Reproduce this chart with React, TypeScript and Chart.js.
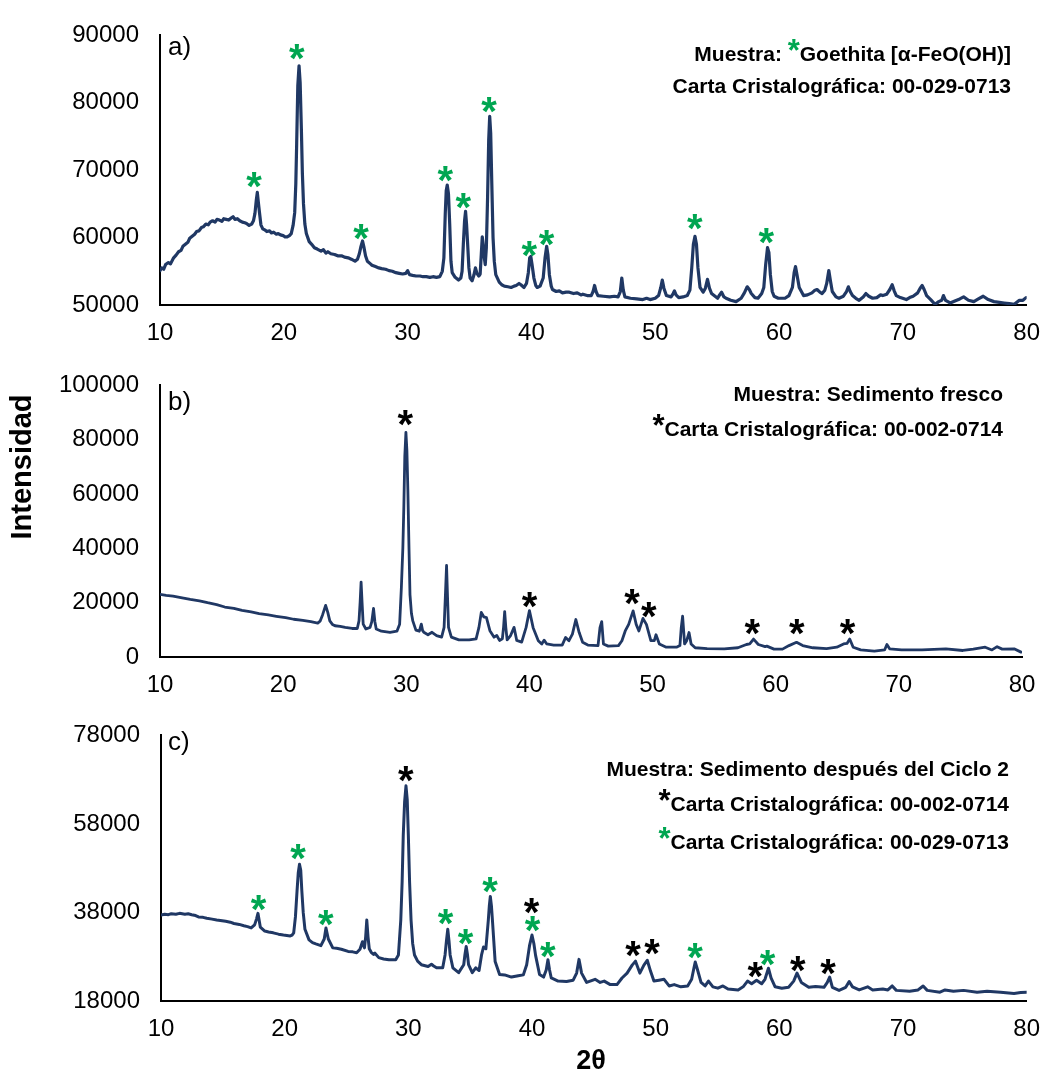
import { useEffect, useRef } from "react";
import { Chart, registerables } from "chart.js";

Chart.register(...registerables);

const FONT = "Arial, 'Liberation Sans', Helvetica, sans-serif";
const NAVY = "#203864";
const GREEN = "#00A651";
const BLACK = "#000000";

// ---- axes ----
const xTicks = [10, 20, 30, 40, 50, 60, 70, 80];
const yTicksA = [50000, 60000, 70000, 80000, 90000];
const yTicksB = [0, 20000, 40000, 60000, 80000, 100000];
const yTicksC = [18000, 38000, 58000, 78000];

// ---- a) Goethita ----
const thetaA = [
  10.0, 10.14, 10.3, 10.45, 10.68, 10.85, 11.1, 11.3, 11.5, 11.7, 11.85, 12.05, 12.25, 12.4, 12.6, 12.8,
  12.95, 13.15, 13.35, 13.5, 13.7, 13.9, 14.05, 14.25, 14.45, 14.6, 14.8, 15.0, 15.15, 15.35, 15.55, 15.75,
  15.9, 16.05, 16.25, 16.44, 16.65, 16.85, 16.99, 17.2, 17.4, 17.55, 17.67, 17.78, 17.86, 17.94, 18.03, 18.15,
  18.3, 18.5, 18.63, 18.85, 19.0, 19.18, 19.4, 19.55, 19.73, 19.95, 20.1, 20.27, 20.45, 20.6, 20.75, 20.88,
  20.97, 21.04, 21.13, 21.23, 21.32, 21.42, 21.5, 21.59, 21.7, 21.82, 22.05, 22.25, 22.47, 22.7, 23.01, 23.2,
  23.4, 23.56, 23.8, 24.1, 24.35, 24.66, 24.9, 25.2, 25.45, 25.75, 25.95, 26.1, 26.22, 26.36, 26.48, 26.6,
  26.75, 27.0, 27.12, 27.4, 27.67, 27.9, 28.22, 28.5, 28.77, 29.05, 29.32, 29.6, 29.85, 30.0, 30.15, 30.4,
  30.68, 31.0, 31.25, 31.51, 31.8, 32.05, 32.33, 32.6, 32.8, 32.93, 33.04, 33.12, 33.2, 33.3, 33.4, 33.5,
  33.6, 33.84, 34.11, 34.3, 34.4, 34.5, 34.6, 34.68, 34.76, 34.85, 34.95, 35.05, 35.21, 35.35, 35.48, 35.6,
  35.75, 35.86, 35.95, 36.03, 36.1, 36.18, 36.27, 36.36, 36.46, 36.55, 36.63, 36.71, 36.8, 36.9, 37.0, 37.12,
  37.4, 37.6, 37.81, 38.1, 38.36, 38.6, 38.77, 39.0, 39.15, 39.4, 39.6, 39.75, 39.86, 39.95, 40.05, 40.2,
  40.35, 40.47, 40.7, 40.95, 41.1, 41.23, 41.33, 41.45, 41.6, 41.7, 42.0, 42.25, 42.51, 42.8, 43.06, 43.4,
  43.7, 44.0, 44.15, 44.5, 44.83, 44.98, 45.1, 45.22, 45.37, 45.8, 46.32, 46.7, 47.0, 47.18, 47.3, 47.42,
  47.55, 48.0, 48.5, 49.0, 49.3, 49.59, 50.0, 50.27, 50.45, 50.57, 50.7, 50.9, 51.28, 51.45, 51.55, 51.68,
  51.9, 52.25, 52.59, 52.8, 52.95, 53.08, 53.21, 53.33, 53.45, 53.62, 53.87, 54.05, 54.22, 54.38, 54.55, 55.04,
  55.2, 55.36, 55.55, 55.72, 56.1, 56.53, 56.94, 57.2, 57.43, 57.6, 57.76, 58.05, 58.3, 58.6, 58.77, 58.92,
  59.07, 59.18, 59.3, 59.45, 59.6, 59.94, 60.48, 60.8, 61.08, 61.22, 61.33, 61.45, 61.63, 61.98, 62.3, 62.66,
  62.9, 63.07, 63.3, 63.48, 63.7, 63.85, 64.02, 64.15, 64.3, 64.6, 64.84, 65.2, 65.45, 65.6, 65.75, 65.93,
  66.2, 66.47, 66.8, 67.02, 67.25, 67.56, 67.9, 68.2, 68.38, 68.7, 68.95, 69.14, 69.3, 69.47, 69.8, 70.28,
  70.55, 70.83, 71.2, 71.4, 71.56, 71.72, 71.92, 72.25, 72.6, 72.9, 73.14, 73.28, 73.45, 73.82, 74.2, 74.6,
  74.91, 75.3, 75.73, 76.1, 76.49, 76.9, 77.36, 77.8, 78.18, 78.6, 79.0, 79.41, 79.7, 79.95,
];
const intensityA = [
  55100, 55500, 55300, 56000, 56300, 56100, 57000, 57400, 57900, 58100, 58700, 59000, 59300, 59900, 60200, 60500,
  60900, 61000, 61500, 61600, 62000, 61900, 62300, 62500, 62300, 62700, 62600, 62400, 62800, 62700, 62600, 62900,
  63100, 62700, 62800, 62500, 62300, 62200, 62100, 61800, 62000, 62500, 63600, 65600, 66700, 65300, 63800, 61900,
  61300, 61100, 60900, 61000, 60700, 60800, 60500, 60600, 60400, 60300, 60100, 60100, 60300, 60600, 61800, 63700,
  68000, 74000, 82500, 85500, 83000, 76000, 69500, 65000, 62000, 60600, 59400, 59000, 58500, 58300, 58000, 58200,
  57700, 57900, 57600, 57500, 57300, 57300, 57100, 57000, 56800, 56500, 56800, 57600, 58600, 59500, 58500, 57300,
  56500, 56100, 55900, 55700, 55500, 55400, 55300, 55100, 55000, 54800, 54700, 54600, 54700, 55100, 54500, 54400,
  54300, 54300, 54200, 54200, 54100, 54200, 54100, 54200, 55000, 57000, 63500, 67000, 67800, 66500, 62000, 56500,
  54800, 54100, 53700, 54000, 55000, 59000, 62500, 63900, 62000, 59000, 55500, 54000, 53600, 54400, 55500, 54700,
  54300, 54600, 57500, 60100, 59000, 57200, 56000, 58500, 66000, 74500, 78000, 75500, 68000, 60000, 56500, 54500,
  53400, 53000, 52800, 52700, 52600, 52800, 52900, 53200, 53000, 52600, 53200, 54800, 57000, 57200, 56000, 54000,
  52900, 52600, 52800, 54000, 57000, 58700, 57500, 54500, 52800, 52300, 52000, 52100, 51800, 51900, 51900, 51700,
  51800, 51500, 51600, 51400, 51400, 52000, 52900, 52000, 51400, 51300, 51200, 51300, 51200, 52000, 54000, 52200,
  51200, 51000, 50900, 50800, 51000, 50800, 51000, 51400, 52600, 53700, 52500, 51400, 51200, 51700, 52100, 51500,
  51100, 51200, 51400, 52200, 55500, 59000, 60200, 59000, 55500, 52600, 51900, 52500, 53800, 52500, 51700, 51000,
  51500, 51900, 51200, 51000, 50700, 50500, 51000, 51800, 52700, 52300, 51700, 51100, 51000, 51700, 52600, 56000,
  58500, 57800, 54500, 52000, 51300, 51000, 51000, 51400, 52600, 54800, 55700, 54500, 52600, 51400, 51500, 51800,
  52200, 52300, 51900, 51700, 52200, 53200, 55100, 53600, 52000, 51200, 51000, 51300, 52000, 52700, 52000, 51400,
  51000, 50700, 51200, 51700, 51300, 51000, 51100, 51500, 51400, 51600, 52300, 53000, 52100, 51400, 51100, 50800,
  51100, 51300, 51800, 52500, 52900, 52300, 51400, 50800, 50100, 50500, 50700, 51400, 50700, 50300, 50600, 50900,
  51200, 50700, 50500, 50900, 51300, 50800, 50500, 50400, 50300, 50200, 50100, 50700, 50700, 51100,
];
const starThetaA = [17.62, 21.07, 26.25, 33.07, 34.52, 36.6, 39.85, 41.23, 53.21, 58.98];
const starIntensityA = [68600, 87500, 60900, 69500, 65400, 79650, 58300, 60000, 62350, 60300];

// ---- b) Sedimento fresco ----
const thetaB = [
  10.0, 10.5, 11.06, 11.8, 12.46, 13.2, 13.86, 14.6, 15.26, 16.0, 16.66, 17.4, 18.05, 18.8, 19.45, 20.2,
  20.85, 21.6, 22.25, 22.81, 23.0, 23.2, 23.45, 23.62, 23.79, 24.0, 24.21, 24.63, 25.04, 25.6, 26.02, 26.16,
  26.25, 26.33, 26.41, 26.5, 26.72, 27.06, 27.2, 27.34, 27.45, 27.56, 27.98, 28.68, 29.24, 29.46, 29.6, 29.72,
  29.8, 29.88, 29.97, 30.05, 30.13, 30.22, 30.3, 30.42, 30.53, 30.78, 31.06, 31.22, 31.32, 31.42, 31.76, 32.09,
  32.46, 32.87, 33.07, 33.17, 33.27, 33.35, 33.43, 33.66, 34.27, 35.11, 35.67, 35.9, 36.09, 36.29, 36.51, 36.79,
  37.13, 37.35, 37.57, 37.8, 37.9, 37.99, 38.08, 38.19, 38.47, 38.75, 38.97, 39.37, 39.73, 40.0, 40.3, 40.72,
  41.0, 41.19, 41.41, 41.97, 42.66, 42.94, 43.21, 43.49, 43.77, 44.04, 44.32, 44.74, 45.57, 45.73, 45.87, 46.01,
  46.4, 47.23, 47.51, 47.78, 48.06, 48.42, 48.67, 48.89, 49.22, 49.5, 49.86, 50.14, 50.28, 50.55, 51.11, 51.94,
  52.22, 52.33, 52.44, 52.6, 52.77, 52.96, 53.13, 53.46, 54.43, 55.82, 56.93, 57.62, 57.89, 58.2, 58.59, 59.14,
  59.28, 59.86, 60.55, 61.08, 61.69, 62.19, 63.02, 64.13, 64.96, 65.51, 65.79, 66.01, 66.29, 66.9, 68.01, 68.84,
  69.03, 69.25, 70.22, 71.88, 73.82, 75.2, 76.04, 77.01, 77.56, 77.98, 78.39, 79.36, 79.92,
];
const intensityB = [
  23100, 22700, 22400, 21800, 21200, 20700, 20000, 19300, 18400, 17900, 17200, 16600, 16000, 15500, 15000, 14500,
  13900, 13500, 13000, 12500, 13200, 15500, 19000, 16500, 13300, 12000, 11500, 11300, 10900, 10500, 10500, 13300,
  20000, 27600, 20000, 12100, 10300, 10900, 13000, 17900, 13000, 10300, 9500, 9100, 9500, 12100, 25500, 40000,
  55000, 74000, 82700, 76000, 61000, 40000, 23000, 16000, 13300, 9900, 9500, 12100, 9800, 9100, 8200, 9100,
  7900, 7300, 10900, 22000, 33700, 22000, 10900, 7300, 6300, 6300, 6700, 10900, 16400, 14800, 14500, 9700,
  7300, 7900, 6100, 6700, 11000, 16700, 11000, 6300, 7900, 10900, 6100, 5500, 10900, 17100, 10800, 6000,
  4800, 6200, 4800, 4400, 4400, 7200, 6000, 8400, 13800, 9000, 5400, 4400, 4200, 10800, 13000, 4800,
  4000, 4200, 6000, 9600, 12000, 17000, 12000, 9600, 14200, 12000, 6000, 6000, 8200, 4800, 3600, 3600,
  4200, 10800, 15000, 4800, 6000, 9000, 4800, 3400, 3100, 3000, 3400, 4600, 4800, 6600, 4600, 3800,
  4000, 2900, 2900, 4200, 5400, 4200, 3400, 3100, 3600, 4800, 5000, 6600, 3600, 2600, 2200, 2600,
  4600, 3000, 2600, 2600, 3000, 2400, 2900, 3600, 2600, 3800, 2900, 3000, 1800,
];
const starThetaB = [29.94, 40.02, 48.34, 49.72, 58.12, 61.72, 65.85];
const starIntensityB = [87870, 21100, 22180, 17390, 11150, 11150, 11150];

// ---- c) Sedimento después del Ciclo 2 ----
const thetaC = [
  10.0, 10.3, 10.6, 10.83, 11.2, 11.5, 11.93, 12.2, 12.48, 12.8, 13.03, 13.4, 13.7, 14.13, 14.5, 14.8,
  15.23, 15.6, 15.9, 16.33, 16.7, 17.0, 17.29, 17.57, 17.72, 17.84, 17.94, 18.03, 18.39, 18.7, 19.08, 19.5,
  19.9, 20.45, 20.6, 20.73, 20.87, 21.0, 21.1, 21.2, 21.3, 21.39, 21.5, 21.64, 21.97, 22.25, 22.52, 22.93,
  23.2, 23.34, 23.53, 23.89, 24.2, 24.58, 25.13, 25.5, 25.82, 26.09, 26.29, 26.45, 26.55, 26.64, 26.74, 26.84,
  27.0, 27.19, 27.3, 27.61, 28.0, 28.43, 28.98, 29.2, 29.39, 29.5, 29.59, 29.7, 29.81, 29.91, 30.0, 30.1,
  30.22, 30.35, 30.5, 30.75, 31.05, 31.6, 31.87, 32.05, 32.28, 32.78, 32.97, 33.08, 33.19, 33.29, 33.38, 33.6,
  34.07, 34.48, 34.58, 34.68, 34.78, 34.87, 35.17, 35.45, 35.72, 35.92, 36.08, 36.27, 36.47, 36.55, 36.63, 36.72,
  36.8, 37.02, 37.38, 37.79, 38.34, 38.89, 39.3, 39.57, 39.8, 40.0, 40.15, 40.29, 40.61, 40.94, 41.15, 41.29,
  41.42, 41.56, 42.11, 42.79, 43.33, 43.61, 43.8, 44.01, 44.42, 45.1, 45.51, 45.84, 46.33, 46.87, 47.28, 47.69,
  48.1, 48.37, 48.72, 49.05, 49.32, 49.59, 49.86, 50.27, 50.68, 51.09, 51.5, 52.04, 52.59, 52.91, 53.1, 53.2,
  53.35, 53.67, 54.0, 54.27, 54.63, 55.03, 55.44, 55.85, 56.67, 57.07, 57.43, 57.76, 58.16, 58.57, 58.84, 59.12,
  59.33, 59.66, 60.2, 60.75, 61.16, 61.43, 61.78, 62.38, 62.93, 63.61, 63.88, 64.07, 64.29, 64.83, 65.37, 65.65,
  65.92, 66.46, 67.14, 67.55, 68.37, 68.78, 69.13, 69.46, 70.54, 71.22, 71.63, 71.96, 72.99, 73.4, 74.08, 74.9,
  75.99, 76.8, 77.89, 78.98, 79.52, 80.0,
];
const intensityC = [
  37400, 37600, 37500, 37700, 37600, 37800, 37600, 37700, 37500, 37300, 37000, 36900, 36700, 36500, 36300, 36200,
  36000, 35800, 35500, 35300, 35000, 34800, 34500, 35200, 36500, 37800, 36200, 34700, 33800, 33600, 33400, 33100,
  32900, 32700, 32900, 33400, 37000, 42800, 47000, 48900, 47500, 42800, 38000, 34200, 31800, 31200, 30900, 30500,
  32000, 34500, 32000, 30000, 29900, 29700, 29200, 29100, 28900, 29700, 31400, 30000, 32500, 36300, 32500, 29800,
  29000, 28500, 28800, 27800, 27500, 27300, 27300, 28400, 36300, 45000, 55500, 63000, 66600, 63500, 55500, 45000,
  36300, 31000, 28400, 27000, 26200, 25800, 26300, 25900, 25500, 25500, 28400, 31500, 34200, 31500, 28400, 25500,
  24400, 26200, 28500, 30300, 28500, 26200, 24400, 25500, 24900, 28400, 30200, 29800, 36300, 39500, 41600, 39500,
  36300, 26900, 24000, 23900, 23400, 23700, 23900, 26200, 30500, 32900, 31000, 28300, 24000, 23400, 25000, 27300,
  25000, 23200, 22500, 22400, 22700, 24300, 27400, 24300, 22200, 22900, 22200, 22500, 21700, 21700, 23200, 24300,
  26100, 27000, 24300, 26100, 27200, 24700, 22500, 22700, 22900, 21400, 21700, 21200, 21400, 22900, 25500, 26800,
  25400, 22200, 21400, 22500, 21200, 20900, 21400, 20700, 20500, 21200, 22500, 21900, 22700, 21900, 22900, 25400,
  23200, 21200, 20900, 21100, 22500, 24300, 22200, 21100, 21300, 21100, 22200, 23400, 21100, 20400, 21100, 22400,
  21200, 20500, 21200, 20500, 20700, 20500, 21400, 20400, 20200, 20500, 21400, 20400, 20000, 20500, 20200, 20400,
  20000, 20200, 20000, 19700, 19900, 20000,
];
const blackStarThetaC = [29.81, 39.99, 48.18, 49.73, 58.08, 61.51, 63.96];
const blackStarIntensityC = [69300, 39360, 29830, 30180, 25020, 26460, 25740];
const greenStarThetaC = [17.9, 21.09, 23.34, 33.03, 34.65, 36.63, 40.07, 41.29, 53.21, 59.06];
const greenStarIntensityC = [40170, 51770, 36700, 37060, 32490, 44300, 35420, 29540, 29320, 27680];

// ---- panel texts ----
const TEXT_FONT = `bold 21px ${FONT}`;
const INLINE_STAR_FONT = `bold 31px ${FONT}`;
const PEAK_STAR_SIZE = 40;

type Part = { text: string; color: string; font: string };
type TextLine = { right: number; baseline: number; parts: Part[] };
type Star = { x: number; y: number; color: string };
type Panel = {
  top: number;
  height: number;
  padTop: number;
  padRight: number;
  yAxisWidth: number;
  xAxisHeight: number;
  yTicks: number[];
  theta: number[];
  intensity: number[];
  lineWidth: number;
  letter: string;
  letterX: number;
  letterBaseline: number;
  lines: TextLine[];
  stars: Star[];
  titles?: { text: string; x: number; y: number; font: string; rotate: boolean }[];
};

const txt = (text: string): Part => ({ text, color: BLACK, font: TEXT_FONT });
const star = (color: string): Part => ({ text: "*", color, font: INLINE_STAR_FONT });

const toStars = (xs: number[], ys: number[], color: string): Star[] =>
  xs.map((x, i) => ({ x, y: ys[i], color }));

const panels: Panel[] = [
  {
    top: 0,
    height: 350,
    padTop: 30,
    padRight: 17,
    yAxisWidth: 160,
    xAxisHeight: 45,
    yTicks: yTicksA,
    theta: thetaA,
    intensity: intensityA,
    lineWidth: 3.2,
    letter: "a)",
    letterX: 168,
    letterBaseline: 55,
    lines: [
      { right: 1011, baseline: 61, parts: [txt("Muestra: "), star(GREEN), txt("Goethita [α-FeO(OH)]")] },
      { right: 1011, baseline: 93, parts: [txt("Carta Cristalográfica: 00-029-0713")] },
    ],
    stars: toStars(starThetaA, starIntensityA, GREEN),
  },
  {
    top: 350,
    height: 350,
    padTop: 31,
    padRight: 32,
    yAxisWidth: 160,
    xAxisHeight: 43,
    yTicks: yTicksB,
    theta: thetaB,
    intensity: intensityB,
    lineWidth: 2.8,
    letter: "b)",
    letterX: 168,
    letterBaseline: 60,
    lines: [
      { right: 1003, baseline: 51, parts: [txt("Muestra: Sedimento fresco")] },
      { right: 1003, baseline: 86, parts: [star(BLACK), txt("Carta Cristalográfica: 00-002-0714")] },
    ],
    stars: toStars(starThetaB, starIntensityB, BLACK),
    titles: [{ text: "Intensidad", x: 23, y: 117, font: `bold 29px ${FONT}`, rotate: true }],
  },
  {
    top: 700,
    height: 378,
    padTop: 25,
    padRight: 17,
    yAxisWidth: 161,
    xAxisHeight: 77,
    yTicks: yTicksC,
    theta: thetaC,
    intensity: intensityC,
    lineWidth: 3.0,
    letter: "c)",
    letterX: 168,
    letterBaseline: 50,
    lines: [
      { right: 1009, baseline: 76, parts: [txt("Muestra: Sedimento después del Ciclo 2")] },
      { right: 1009, baseline: 111, parts: [star(BLACK), txt("Carta Cristalográfica: 00-002-0714")] },
      { right: 1009, baseline: 149, parts: [star(GREEN), txt("Carta Cristalográfica: 00-029-0713")] },
    ],
    stars: [
      ...toStars(blackStarThetaC, blackStarIntensityC, BLACK),
      ...toStars(greenStarThetaC, greenStarIntensityC, GREEN),
    ],
    titles: [{ text: "2θ", x: 591, y: 362, font: `bold 27px ${FONT}`, rotate: false }],
  },
];

function drawPeakStar(ctx: CanvasRenderingContext2D, x: number, y: number, color: string) {
  ctx.save();
  ctx.font = `bold ${PEAK_STAR_SIZE}px ${FONT}`;
  ctx.fillStyle = color;
  ctx.textAlign = "left";
  ctx.textBaseline = "alphabetic";
  const m = ctx.measureText("*");
  const x0 = x - (m.actualBoundingBoxRight - m.actualBoundingBoxLeft) / 2;
  const y0 = y + (m.actualBoundingBoxAscent - m.actualBoundingBoxDescent) / 2;
  ctx.fillText("*", x0, y0);
  ctx.restore();
}

function overlayPlugin(p: Panel) {
  return {
    id: "panelOverlay",
    afterDraw(chart: any) {
      const ctx: CanvasRenderingContext2D = chart.ctx;
      const xs = chart.scales.x;
      const ys = chart.scales.y;
      ctx.save();
      // panel letter
      ctx.font = `26px ${FONT}`;
      ctx.fillStyle = BLACK;
      ctx.textAlign = "left";
      ctx.textBaseline = "alphabetic";
      ctx.fillText(p.letter, p.letterX, p.letterBaseline);
      // sample / card captions, right aligned
      for (const line of p.lines) {
        let x = line.right;
        for (let i = line.parts.length - 1; i >= 0; i--) {
          const part = line.parts[i];
          ctx.font = part.font;
          ctx.fillStyle = part.color;
          ctx.textAlign = "right";
          ctx.fillText(part.text, x, line.baseline);
          x -= ctx.measureText(part.text).width;
        }
      }
      // axis titles
      for (const t of p.titles ?? []) {
        ctx.save();
        ctx.font = t.font;
        ctx.fillStyle = BLACK;
        ctx.textAlign = "center";
        ctx.textBaseline = "middle";
        ctx.translate(t.x, t.y);
        if (t.rotate) ctx.rotate(-Math.PI / 2);
        ctx.fillText(t.text, 0, 0);
        ctx.restore();
      }
      ctx.restore();
      // reflection markers
      for (const s of p.stars) {
        drawPeakStar(ctx, xs.getPixelForValue(s.x), ys.getPixelForValue(s.y), s.color);
      }
    },
  };
}

function makeConfig(p: Panel): any {
  const tickFont = { family: FONT, size: 24 };
  return {
    type: "scatter",
    data: {
      datasets: [
        {
          data: p.theta.map((t, i) => ({ x: t, y: p.intensity[i] })),
          showLine: true,
          borderColor: NAVY,
          backgroundColor: NAVY,
          borderWidth: p.lineWidth,
          borderJoinStyle: "round",
          borderCapStyle: "round",
          pointRadius: 0,
          tension: 0,
          fill: false,
        },
      ],
    },
    options: {
      animation: false,
      responsive: false,
      maintainAspectRatio: false,
      events: [],
      layout: { padding: { top: p.padTop, right: p.padRight, left: 0, bottom: 0 } },
      plugins: { legend: { display: false }, tooltip: { enabled: false }, title: { display: false } },
      scales: {
        x: {
          type: "linear",
          min: xTicks[0],
          max: xTicks[xTicks.length - 1],
          afterBuildTicks: (s: any) => {
            s.ticks = xTicks.map((v) => ({ value: v }));
          },
          afterFit: (s: any) => {
            s.height = p.xAxisHeight;
          },
          ticks: {
            font: tickFont,
            color: BLACK,
            padding: 14,
            maxRotation: 0,
            autoSkip: false,
            callback: (v: any) => String(v),
          },
          grid: { display: false, drawTicks: false },
          border: { display: true, color: BLACK, width: 2 },
        },
        y: {
          type: "linear",
          min: p.yTicks[0],
          max: p.yTicks[p.yTicks.length - 1],
          afterBuildTicks: (s: any) => {
            s.ticks = p.yTicks.map((v) => ({ value: v }));
          },
          afterFit: (s: any) => {
            s.width = p.yAxisWidth;
          },
          ticks: {
            font: tickFont,
            color: BLACK,
            padding: 21,
            autoSkip: false,
            callback: (v: any) => String(v),
          },
          grid: { display: false, drawTicks: false },
          border: { display: true, color: BLACK, width: 2 },
        },
      },
    },
    plugins: [overlayPlugin(p)],
  };
}

function PanelChart({ panel }: { panel: Panel }) {
  const ref = useRef<HTMLCanvasElement | null>(null);
  useEffect(() => {
    if (!ref.current) return;
    const chart = new Chart(ref.current, makeConfig(panel));
    return () => chart.destroy();
  }, [panel]);
  return (
    <canvas
      ref={ref}
      width={1054}
      height={panel.height}
      style={{ position: "absolute", left: 0, top: panel.top, width: 1054, height: panel.height }}
    />
  );
}

export default function App() {
  return (
    <div
      style={{
        position: "absolute",
        left: 0,
        top: 0,
        width: 1054,
        height: 1078,
        background: "#ffffff",
        overflow: "hidden",
      }}
    >
      {panels.map((p) => (
        <PanelChart key={p.letter} panel={p} />
      ))}
    </div>
  );
}
